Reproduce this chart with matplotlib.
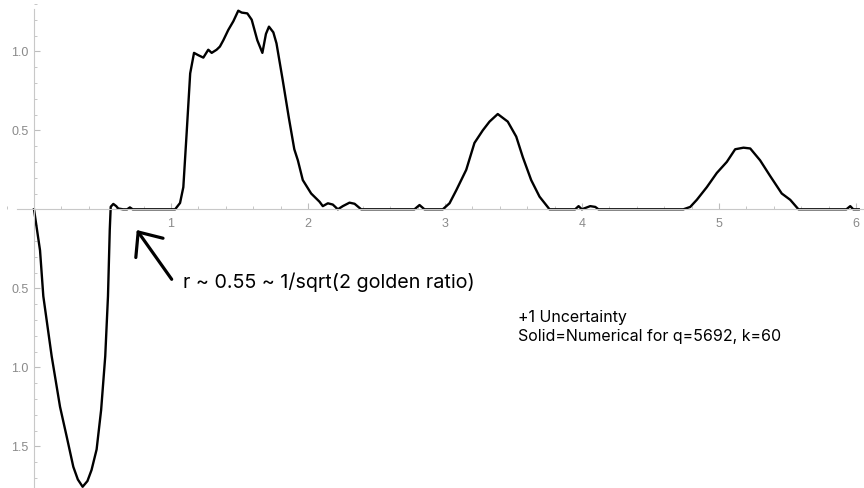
import numpy as np
import matplotlib
matplotlib.use('Agg')
import matplotlib.pyplot as plt
from matplotlib.ticker import MultipleLocator, FuncFormatter

plt.rcParams['font.family'] = ['Liberation Sans', 'DejaVu Sans']

# 曲线数据
r_vals = [0.0, 0.044, 0.068, 0.129, 0.19, 0.239, 0.287, 0.32, 0.355, 0.39,
          0.42, 0.457, 0.49, 0.52, 0.54, 0.553, 0.56, 0.579, 0.60, 0.615,
          0.65, 0.68, 0.70, 0.72, 1.03, 1.066, 1.09, 1.114, 1.14, 1.168,
          1.20, 1.236, 1.272, 1.297, 1.333, 1.357, 1.382, 1.418, 1.455,
          1.491, 1.516, 1.557, 1.589, 1.63, 1.667, 1.693, 1.715, 1.747, 1.77,
          1.815, 1.86, 1.90, 1.926, 1.962, 2.023, 2.084, 2.108, 2.145, 2.181,
          2.218, 2.254, 2.303, 2.34, 2.388, 2.777, 2.814, 2.85, 2.984, 3.033,
          3.082, 3.155, 3.215, 3.276, 3.325, 3.385, 3.458, 3.52, 3.568, 3.629,
          3.69, 3.763, 3.95, 3.975, 3.999, 4.06, 4.097, 4.12, 4.74, 4.79,
          4.838, 4.911, 4.984, 5.057, 5.118, 5.179, 5.228, 5.30, 5.374, 5.458,
          5.52, 5.58, 5.93, 5.958, 5.98, 6.02]
g_vals = [0.0, -0.26, -0.55, -0.93, -1.25, -1.44, -1.63, -1.71, -1.756, -1.72,
          -1.65, -1.52, -1.27, -0.93, -0.55, -0.13, 0.016, 0.034, 0.02, 0.005,
          0.0, 0.0, 0.012, 0.0, 0.0, 0.04, 0.14, 0.48, 0.86, 0.99,
          0.975, 0.96, 1.01, 0.99, 1.01, 1.03, 1.07, 1.135, 1.19,
          1.257, 1.245, 1.24, 1.20, 1.07, 0.99, 1.11, 1.156, 1.12, 1.05,
          0.82, 0.58, 0.38, 0.31, 0.185, 0.10, 0.048, 0.02, 0.038, 0.03,
          0.0, 0.02, 0.042, 0.035, 0.0, 0.0, 0.027, 0.0, 0.0, 0.038,
          0.12, 0.25, 0.42, 0.50, 0.555, 0.603, 0.555, 0.46, 0.33, 0.185,
          0.08, 0.0, 0.0, 0.02, 0.0, 0.02, 0.015, 0.0, 0.0, 0.015,
          0.06, 0.14, 0.23, 0.30, 0.38, 0.39, 0.385, 0.31, 0.21, 0.10,
          0.06, 0.0, 0.0, 0.02, 0.0, 0.0]

x_major = [1, 2, 3, 4, 5, 6]
y_major = [-1.5, -1.0, -0.5, 0.5, 1.0]

arrow_tip = (0.75, -0.131)
arrow_tail = (1.005, -0.443)
note_text = 'r ~ 0.55 ~ 1/sqrt(2 golden ratio)'
legend_lines = ['+1 Uncertainty', 'Solid=Numerical for q=5692, k=60']

fig = plt.figure(figsize=(8.64, 4.88), dpi=100)
ax = fig.add_axes([0, 0, 1, 1])
ax.set_xlim(-34 / 137, (864 - 34) / 137)
ax.set_ylim((209.3 - 488) / 158, 209.3 / 158)

ax.plot(r_vals, g_vals, color='black', lw=1.7, solid_joinstyle='round')

axis_c = '#c8c8c8'
for s in ['top', 'right']:
    ax.spines[s].set_visible(False)
ax.spines['left'].set_position(('data', 0))
ax.spines['bottom'].set_position(('data', 0))
ax.spines['left'].set_color(axis_c)
ax.spines['bottom'].set_color(axis_c)
ax.spines['left'].set_bounds(-1.77, 1.27)
ax.spines['bottom'].set_bounds(-0.125, 6.06)

ax.set_xticks(x_major)
ax.set_yticks(y_major)
ax.xaxis.set_minor_locator(MultipleLocator(0.2))
ax.yaxis.set_minor_locator(MultipleLocator(0.1))
ax.yaxis.set_major_formatter(FuncFormatter(lambda v, p: f'{abs(v):.1f}'))
ax.tick_params(which='both', direction='in', color='#bdbdbd', labelcolor='#8a8a8a', labelsize=9)
ax.tick_params(which='major', length=4, width=0.8)
ax.tick_params(which='minor', length=2.5, width=0.6)
ax.tick_params(axis='x', pad=6)
ax.tick_params(axis='y', pad=4)

ax.annotate('', xy=arrow_tip, xytext=arrow_tail,
            arrowprops=dict(arrowstyle='->, head_length=14, head_width=12',
                            mutation_scale=1, lw=2.3, color='black',
                            shrinkA=0, shrinkB=0))
note_font = ['Inter', 'DejaVu Sans']
ax.text(1.088, -0.46, note_text, fontsize=14.2, ha='left', va='center',
        family=note_font)
ax.text(3.53, -0.682, legend_lines[0], fontsize=11.5, ha='left', va='center',
        family=note_font)
ax.text(3.53, -0.802, legend_lines[1], fontsize=11.5, ha='left', va='center',
        family=note_font)

plt.savefig('out.png', dpi=100)
